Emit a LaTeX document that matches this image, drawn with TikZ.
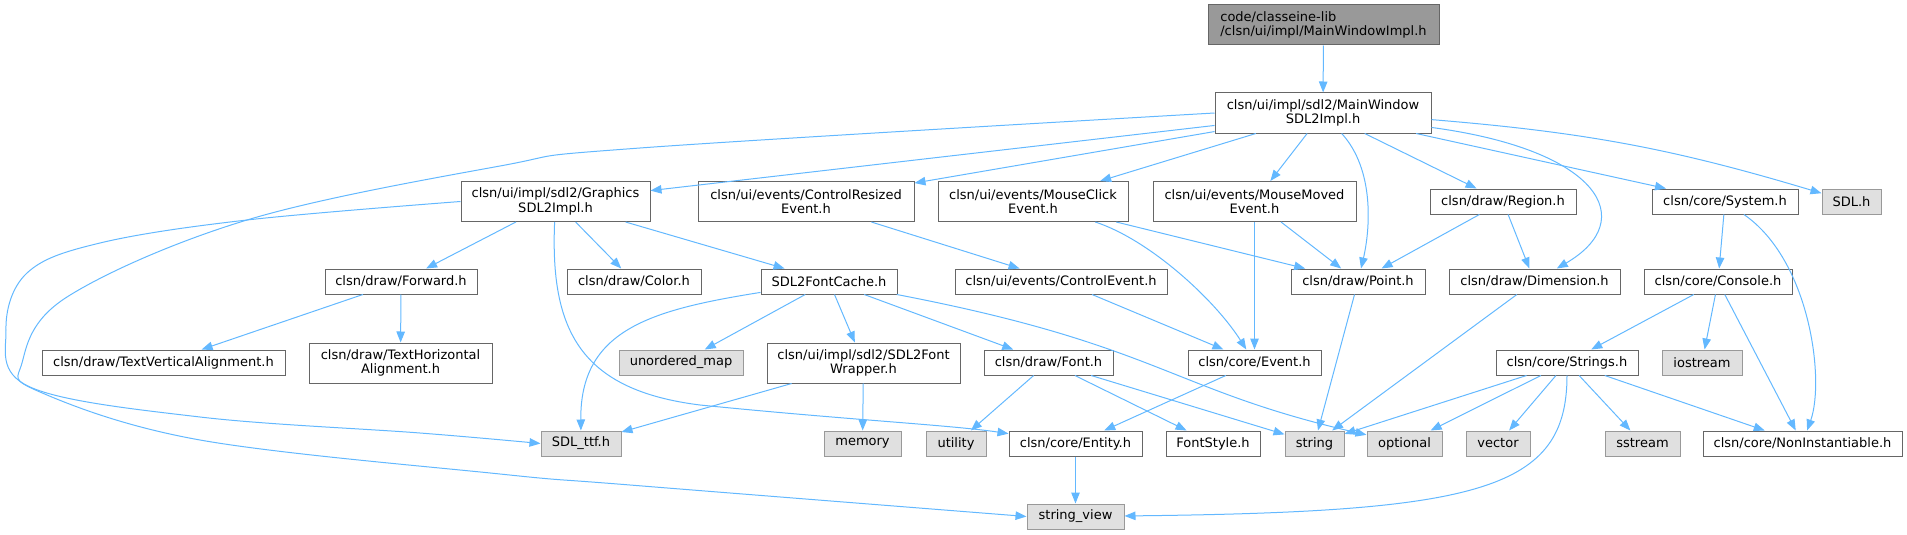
\documentclass[tikz,border=0pt]{standalone}
\usepackage{fontspec}
\setmainfont{DejaVu Sans}
\usetikzlibrary{arrows.meta}
\definecolor{edgeblue}{HTML}{63B8FF}
\definecolor{nodedraw}{HTML}{666666}
\definecolor{rootfill}{HTML}{999999}
\definecolor{extdraw}{HTML}{999999}
\definecolor{extfill}{HTML}{E0E0E0}
\begin{document}
\begin{tikzpicture}[x=1pt, y=-1pt,
  font=\fontsize{13}{14.5}\selectfont,
  file/.style={
    draw=nodedraw, fill=white,
    line width=1pt, inner sep=0pt,
    minimum width=#1,
    minimum height=25pt,
    align=center
  },
  ext/.style={file=#1, draw=extdraw, fill=extfill},
  tall/.style={minimum height=40pt},
  dep/.style={-{Triangle[length=11pt,width=8.5pt]}, edgeblue, line width=1pt}
]
  \useasboundingbox (0,0) rectangle (1907,535);
  % top
  \node[file=231pt, tall, fill=rootfill, align=left] (root) at (1323.5,25)
        {code/classeine-lib\\/clsn/ui/impl/MainWindowImpl.h};
  \node[file=216pt, tall] (main) at (1323,113)
        {clsn/ui/impl/sdl2/MainWindow\\SDL2Impl.h};
  % row 2
  \node[file=189pt, tall] (gfx)     at (555.5,201.5) {clsn/ui/impl/sdl2/Graphics\\SDL2Impl.h};
  \node[file=216pt, tall] (ctrlres) at (806,201.5)   {clsn/ui/events/ControlResized\\Event.h};
  \node[file=190pt, tall] (mclick)  at (1033,201.5)  {clsn/ui/events/MouseClick\\Event.h};
  \node[file=203pt, tall] (mmoved)  at (1254.5,201.5){clsn/ui/events/MouseMoved\\Event.h};
  \node[file=146pt] (region) at (1503,201.5)   {clsn/draw/Region.h};
  \node[file=146pt] (system) at (1725,201.5)   {clsn/core/System.h};
  \node[ext=59pt]   (sdl)    at (1851.5,201.5) {SDL.h};
  % row 3
  \node[file=152pt] (forward)   at (401,281.5)    {clsn/draw/Forward.h};
  \node[file=134pt] (color)     at (634,281.5)    {clsn/draw/Color.h};
  \node[file=136pt] (fontcache) at (829,281.5)    {SDL2FontCache.h};
  \node[file=212pt] (ctrlevent) at (1061,281.5)   {clsn/ui/events/ControlEvent.h};
  \node[file=134pt] (point)     at (1358,281.5)   {clsn/draw/Point.h};
  \node[file=171pt] (dimension) at (1534.5,281.5) {clsn/draw/Dimension.h};
  \node[file=148pt] (console)   at (1718,281.5)   {clsn/core/Console.h};
  % row 4
  \node[file=243pt]       (tva)      at (163.5,362.5) {clsn/draw/TextVerticalAlignment.h};
  \node[file=183pt, tall] (tha)      at (400.5,363)   {clsn/draw/TextHorizontal\\Alignment.h};
  \node[ext=124pt]        (umap)     at (681,362.5)   {unordered\_map};
  \node[file=193pt, tall] (wrapper)  at (863.5,363)   {clsn/ui/impl/sdl2/SDL2Font\\Wrapper.h};
  \node[file=129pt]       (fonth)    at (1048.5,362.5){clsn/draw/Font.h};
  \node[file=133pt]       (event)    at (1254.5,362.5){clsn/core/Event.h};
  \node[file=142pt]       (strings)  at (1567,362.5)  {clsn/core/Strings.h};
  \node[ext=80pt]         (iostream) at (1702,362.5)  {iostream};
  % row 5
  \node[ext=80pt]   (sdlttf)    at (581,443.5)    {SDL\_ttf.h};
  \node[ext=77pt]   (memory)    at (862.5,443.5)  {memory};
  \node[ext=60pt]   (utility)   at (956,443.5)    {utility};
  \node[file=133pt] (entity)    at (1075.5,443.5) {clsn/core/Entity.h};
  \node[file=94pt]  (fontstyle) at (1213,443.5)   {FontStyle.h};
  \node[ext=59pt]   (string)    at (1314.5,443.5) {string};
  \node[ext=75pt]   (optional)  at (1404.5,443.5) {optional};
  \node[ext=64pt]   (vector)    at (1498,443.5)   {vector};
  \node[ext=75pt]   (sstream)   at (1642.5,443.5) {sstream};
  \node[file=199pt] (noninst)   at (1802.5,443.5) {clsn/core/NonInstantiable.h};
  % row 6
  \node[ext=97pt]   (strview)   at (1075.5,516.5) {string\_view};

  \draw[dep] (root) -- (main);
  % from MainWindowSDL2Impl.h
  \draw[dep] (main) -- (gfx);
  \draw[dep] (main) -- (ctrlres);
  \draw[dep] (main) -- (mclick);
  \draw[dep] (main) -- (mmoved);
  \draw[dep] (main) .. controls (1375,170) and (1370,230) .. (point);
  \draw[dep] (main) -- (region);
  \draw[dep] (main) .. controls (1600,150) and (1640,220) .. (dimension);
  \draw[dep] (main) -- (system);
  \draw[dep] (main) to[bend left=6] (sdl);
  \draw[dep] plot[smooth, tension=0.6] coordinates {(main.west) (640,148) (500,166)
             (247,220) (67,297) (22,363) (40,392) (200,440) (500,474) (630,485) (strview.west)};
  % from GraphicsSDL2Impl.h
  \draw[dep] plot[smooth, tension=0.6] coordinates {(gfx.west) (247,220) (100,243)
             (27,273) (6,330) (30,387) (200,417) (420,433) (sdlttf.west)};
  \draw[dep] (gfx) -- (forward);
  \draw[dep] (gfx) .. controls (550,330) and (580,390) .. (700,405)
             .. controls (850,420) and (950,425) .. (entity);
  \draw[dep] (gfx) -- (color);
  \draw[dep] (gfx) -- (fontcache);
  % events
  \draw[dep] (ctrlres) -- (ctrlevent);
  \draw[dep] (mclick) .. controls (1150,240) and (1215,300) .. (event);
  \draw[dep] (mclick) -- (point);
  \draw[dep] (mmoved) -- (event);
  \draw[dep] (mmoved) -- (point);
  \draw[dep] (ctrlevent) -- (event);
  \draw[dep] (event) -- (entity);
  \draw[dep] (entity) -- (strview);
  % draw
  \draw[dep] (region) -- (point);
  \draw[dep] (region) -- (dimension);
  \draw[dep] (point) -- (string);
  \draw[dep] (dimension) -- (string);
  \draw[dep] (forward) -- (tva);
  \draw[dep] (forward) -- (tha);
  % fonts
  \draw[dep] (fontcache) .. controls (650,310) and (580,330) .. (sdlttf);
  \draw[dep] (fontcache) -- (umap);
  \draw[dep] (fontcache) -- (wrapper);
  \draw[dep] (fontcache) -- (fonth);
  \draw[dep] (fontcache) .. controls (1160,345) and (1170,390) .. (optional);
  \draw[dep] (wrapper) -- (sdlttf);
  \draw[dep] (wrapper) -- (memory);
  \draw[dep] (fonth) -- (utility);
  \draw[dep] (fonth) -- (fontstyle);
  \draw[dep] (fonth) -- (string);
  % core
  \draw[dep] (system) -- (console);
  \draw[dep] (system) .. controls (1810,260) and (1825,380) .. (noninst);
  \draw[dep] (console) -- (strings);
  \draw[dep] (console) -- (iostream);
  \draw[dep] (console) -- (noninst);
  \draw[dep] (strings) -- (string);
  \draw[dep] (strings) -- (optional);
  \draw[dep] (strings) -- (vector);
  \draw[dep] (strings) -- (sstream);
  \draw[dep] (strings) -- (noninst);
  \draw[dep] (strings) .. controls (1567,490) and (1480,512) .. (strview);
\end{tikzpicture}
\end{document}
